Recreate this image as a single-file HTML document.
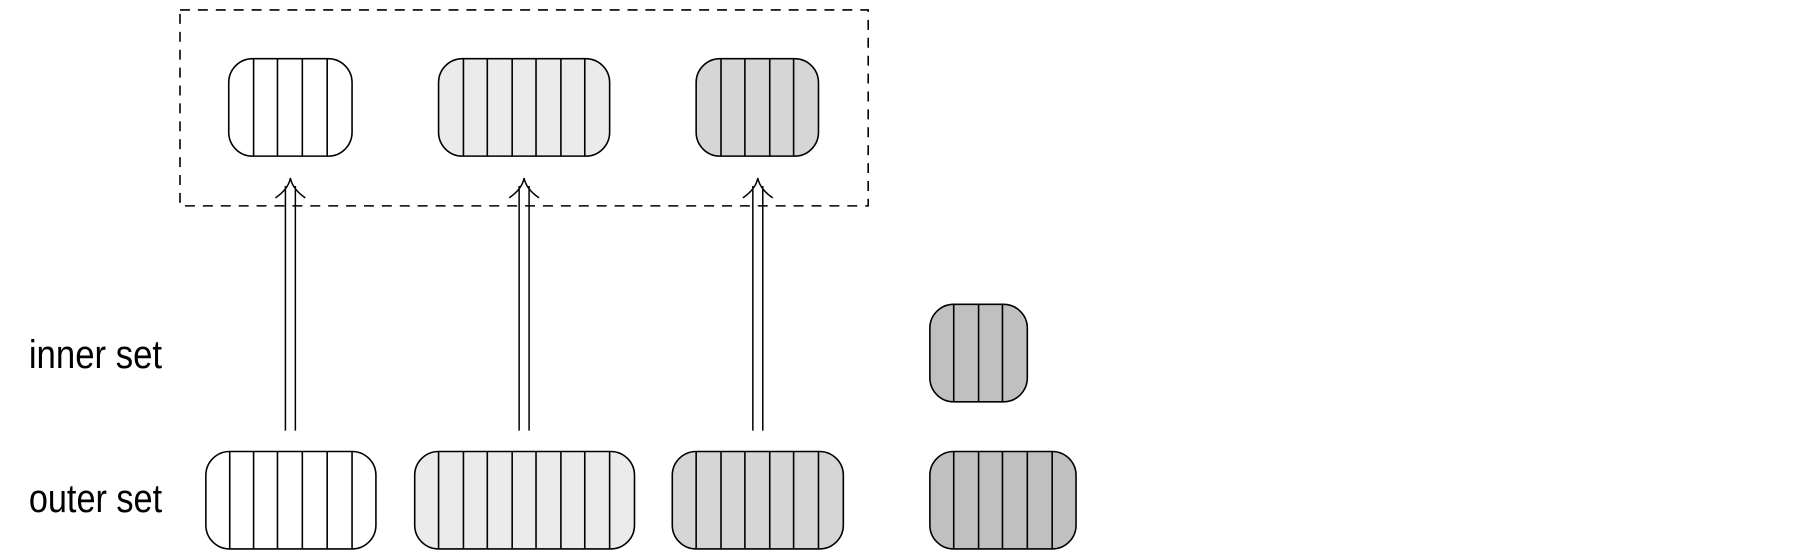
<!DOCTYPE html>
<html><head><meta charset="utf-8"><style>html,body{margin:0;padding:0;background:#fff;}svg{display:block}</style></head>
<body>
<svg width="1800" height="555" viewBox="0 0 1800 555" xmlns="http://www.w3.org/2000/svg">
<g transform="scale(0.9945)">
<g fill="none" stroke="#000" stroke-width="1.6">
<path d="M181 10 H873 V207 H181 Z" stroke-dasharray="10 8"/>
</g>
<g stroke="#000" stroke-width="1.6">
<rect x="230" y="59" width="124" height="98" rx="24" fill="#fff"/>
<path d="M255 59V157M279 59V157M304 59V157M329 59V157"/>
<rect x="441" y="59" width="172" height="98" rx="24" fill="#ebebeb"/>
<path d="M466 59V157M490 59V157M515 59V157M539 59V157M564 59V157M588 59V157"/>
<rect x="700" y="59" width="123" height="98" rx="24" fill="#d6d6d6"/>
<path d="M725 59V157M749 59V157M774 59V157M798 59V157"/>
<rect x="935" y="306" width="98" height="98" rx="24" fill="#c0c0c0"/>
<path d="M959 306V404M984 306V404M1008 306V404"/>
<rect x="207" y="454" width="171" height="98" rx="24" fill="#fff"/>
<path d="M231 454V552M255 454V552M279 454V552M304 454V552M329 454V552M354 454V552"/>
<rect x="417" y="454" width="221" height="98" rx="24" fill="#ebebeb"/>
<path d="M441 454V552M466 454V552M490 454V552M515 454V552M539 454V552M564 454V552M588 454V552M613 454V552"/>
<rect x="676" y="454" width="172" height="98" rx="24" fill="#d6d6d6"/>
<path d="M700 454V552M725 454V552M749 454V552M774 454V552M798 454V552M823 454V552"/>
<rect x="935" y="454" width="147" height="98" rx="24" fill="#c0c0c0"/>
<path d="M959 454V552M984 454V552M1008 454V552M1033 454V552M1058 454V552"/>
</g>
<g fill="none" stroke="#000" stroke-width="1.5">
<path d="M287 433V187M297 433V187M277 199Q290 190 292 179Q294 190 307 199"/>
<path d="M522 433V187M532 433V187M512 199Q525 190 527 179Q529 190 542 199"/>
<path d="M757 433V187M767 433V187M747 199Q760 190 762 179Q764 190 777 199"/>
</g>
<g font-family="'Liberation Sans Narrow','Liberation Sans',sans-serif" font-size="40" fill="#000">
<text x="29" y="370" textLength="134" lengthAdjust="spacingAndGlyphs">inner set</text>
<text x="29" y="515" textLength="134" lengthAdjust="spacingAndGlyphs">outer set</text>
</g>
</g>
</svg>
</body></html>
